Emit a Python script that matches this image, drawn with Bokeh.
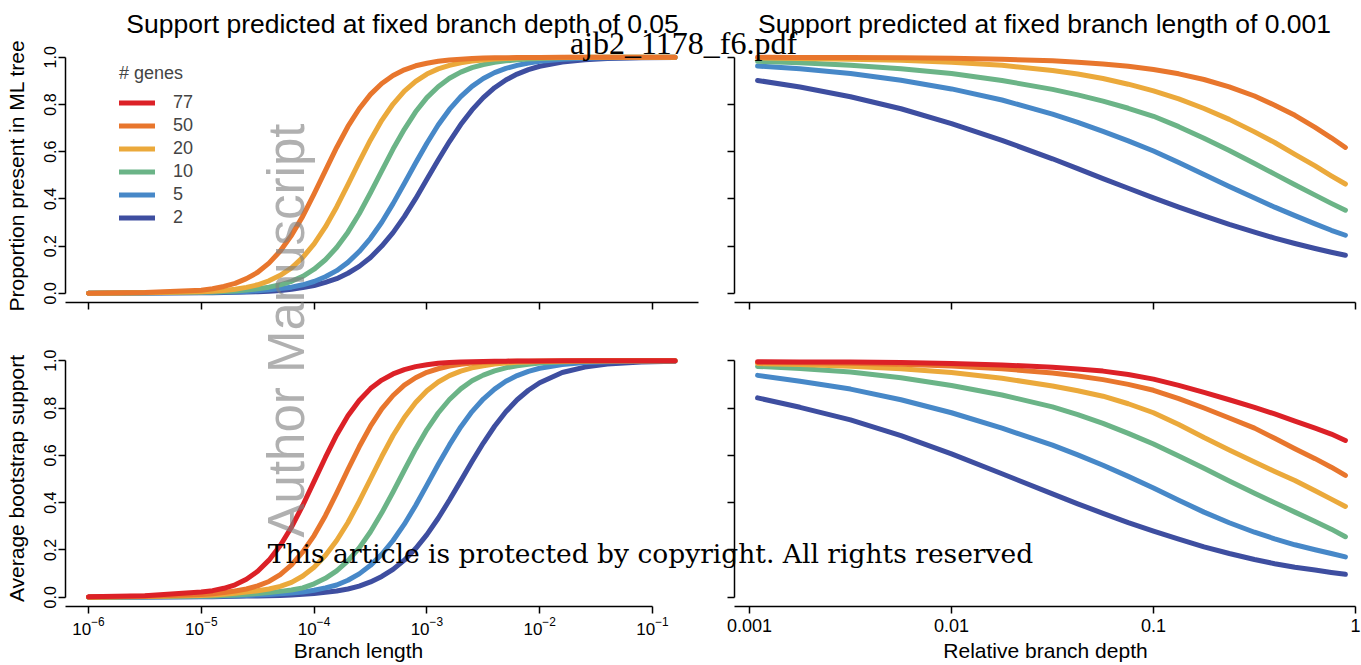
import math
from bokeh.plotting import figure
from bokeh.models import (Range1d, LogScale, LinearScale, LogAxis, LinearAxis,
                          FixedTicker, LogTickFormatter, CustomJSTickFormatter,
                          Label, Legend, LegendItem)
from bokeh.embed import file_html
from bokeh.resources import INLINE
from bokeh.core.properties import value

# ---------------------------------------------------------------- data
GENES = [77, 50, 20, 10, 5, 2]
COLORS = ["#DC2127", "#E8762D", "#EBA93B", "#6BB487", "#4788C8", "#3E4EA0"]

LEFT_XTICKS = [1e-6, 1e-5, 1e-4, 1e-3, 1e-2, 1e-1]
RIGHT_XTICKS = [0.001, 0.01, 0.1, 1.0]
YTICKS = [0.0, 0.2, 0.4, 0.6, 0.8, 1.0]

# branch length (log10) for the left panels
LOG10_BRANCH_LENGTH = [-6.0, -5.5,
                       -5.0, -4.9, -4.8, -4.7, -4.6, -4.5, -4.4, -4.3, -4.2, -4.1,
                       -4.0, -3.9, -3.8, -3.7, -3.6, -3.5, -3.4, -3.3, -3.2, -3.1,
                       -3.0, -2.9, -2.8, -2.7, -2.6, -2.5, -2.4, -2.3, -2.2, -2.1,
                       -2.0, -1.8, -1.6, -1.4, -1.1, -0.8]

# top-left: proportion present in ML tree vs branch length
TL_50 = [0.0, 0.003, 0.013, 0.019, 0.029, 0.042, 0.062, 0.089, 0.128, 0.179, 0.246, 0.327, 0.421, 0.52, 0.618, 0.707, 0.782, 0.843, 0.889, 0.923, 0.947, 0.964, 0.975, 0.983, 0.989, 0.992, 0.995, 0.997, 0.998, 0.998, 0.999, 0.999, 0.999, 1.0, 1.0, 1.0, 1.0, 1.0]
TL_20 = [0.0, 0.002, 0.007, 0.009, 0.012, 0.017, 0.025, 0.036, 0.053, 0.076, 0.108, 0.152, 0.209, 0.281, 0.366, 0.46, 0.557, 0.65, 0.733, 0.802, 0.857, 0.898, 0.929, 0.951, 0.966, 0.977, 0.984, 0.989, 0.993, 0.995, 0.997, 0.998, 0.998, 0.999, 1.0, 1.0, 1.0, 1.0]
TL_10 = [0.0, 0.002, 0.005, 0.006, 0.008, 0.01, 0.014, 0.019, 0.026, 0.036, 0.051, 0.072, 0.102, 0.142, 0.194, 0.259, 0.337, 0.426, 0.519, 0.611, 0.695, 0.769, 0.829, 0.875, 0.911, 0.937, 0.956, 0.969, 0.979, 0.985, 0.99, 0.993, 0.995, 0.998, 0.999, 1.0, 1.0, 1.0]
TL_5 = [0.0, 0.001, 0.003, 0.004, 0.005, 0.006, 0.008, 0.011, 0.015, 0.02, 0.026, 0.036, 0.05, 0.07, 0.096, 0.131, 0.177, 0.233, 0.301, 0.38, 0.465, 0.552, 0.636, 0.713, 0.779, 0.833, 0.877, 0.91, 0.935, 0.953, 0.966, 0.976, 0.983, 0.992, 0.996, 0.998, 0.999, 1.0]
TL_2 = [0.0, 0.001, 0.002, 0.002, 0.003, 0.004, 0.005, 0.007, 0.009, 0.012, 0.017, 0.024, 0.033, 0.046, 0.062, 0.085, 0.114, 0.152, 0.2, 0.257, 0.325, 0.401, 0.483, 0.565, 0.643, 0.715, 0.777, 0.829, 0.871, 0.904, 0.929, 0.948, 0.962, 0.98, 0.99, 0.995, 0.998, 0.999]

# bottom-left: average bootstrap support vs branch length
BL_77 = [0.002, 0.007, 0.022, 0.028, 0.038, 0.053, 0.076, 0.11, 0.157, 0.219, 0.297, 0.389, 0.49, 0.591, 0.686, 0.767, 0.832, 0.882, 0.918, 0.944, 0.962, 0.975, 0.983, 0.989, 0.992, 0.995, 0.996, 0.997, 0.998, 0.998, 0.999, 0.999, 0.999, 1.0, 1.0, 1.0, 1.0, 1.0]
BL_50 = [0.001, 0.004, 0.012, 0.015, 0.02, 0.027, 0.035, 0.048, 0.067, 0.096, 0.137, 0.192, 0.261, 0.345, 0.44, 0.54, 0.636, 0.723, 0.796, 0.853, 0.897, 0.928, 0.951, 0.966, 0.977, 0.985, 0.99, 0.993, 0.995, 0.997, 0.998, 0.998, 0.999, 0.999, 1.0, 1.0, 1.0, 1.0]
BL_20 = [0.0, 0.003, 0.008, 0.01, 0.013, 0.017, 0.022, 0.028, 0.035, 0.046, 0.063, 0.09, 0.127, 0.177, 0.24, 0.316, 0.405, 0.5, 0.595, 0.684, 0.76, 0.823, 0.873, 0.91, 0.937, 0.956, 0.97, 0.979, 0.986, 0.99, 0.993, 0.995, 0.997, 0.998, 0.999, 1.0, 1.0, 1.0]
BL_10 = [0.0, 0.002, 0.005, 0.006, 0.008, 0.01, 0.013, 0.016, 0.02, 0.025, 0.031, 0.04, 0.057, 0.08, 0.112, 0.154, 0.209, 0.277, 0.357, 0.445, 0.537, 0.627, 0.709, 0.779, 0.836, 0.881, 0.915, 0.939, 0.957, 0.97, 0.979, 0.985, 0.99, 0.995, 0.998, 0.999, 1.0, 1.0]
BL_5 = [0.0, 0.001, 0.003, 0.004, 0.005, 0.006, 0.008, 0.01, 0.012, 0.015, 0.018, 0.022, 0.03, 0.04, 0.052, 0.072, 0.099, 0.135, 0.182, 0.24, 0.309, 0.388, 0.474, 0.561, 0.644, 0.72, 0.785, 0.838, 0.88, 0.913, 0.937, 0.955, 0.968, 0.984, 0.992, 0.996, 0.998, 0.999]
BL_2 = [0.0, 0.001, 0.002, 0.002, 0.003, 0.004, 0.005, 0.006, 0.007, 0.008, 0.01, 0.013, 0.016, 0.021, 0.027, 0.035, 0.047, 0.065, 0.088, 0.118, 0.157, 0.206, 0.265, 0.334, 0.411, 0.492, 0.574, 0.652, 0.723, 0.784, 0.835, 0.875, 0.907, 0.95, 0.973, 0.986, 0.995, 0.998]

# relative branch depth (log10) for the right panels
LOG10_REL_DEPTH = [-2.96, -2.75, -2.5, -2.25, -2.0, -1.75, -1.5, -1.375, -1.25, -1.125,
                   -1.0, -0.875, -0.75, -0.625, -0.5, -0.4, -0.3, -0.2, -0.12, -0.05]

# top-right: proportion present in ML tree vs relative depth
TR_50 = [1.0, 0.999, 0.999, 0.998, 0.996, 0.992, 0.985, 0.979, 0.972, 0.962, 0.948, 0.93, 0.906, 0.875, 0.836, 0.797, 0.754, 0.703, 0.659, 0.618]
TR_20 = [0.997, 0.995, 0.992, 0.987, 0.979, 0.966, 0.944, 0.929, 0.91, 0.886, 0.858, 0.824, 0.783, 0.737, 0.684, 0.639, 0.589, 0.54, 0.498, 0.463]
TR_10 = [0.983, 0.977, 0.966, 0.951, 0.931, 0.902, 0.864, 0.841, 0.814, 0.784, 0.75, 0.706, 0.657, 0.605, 0.55, 0.505, 0.46, 0.416, 0.381, 0.352]
TR_5 = [0.963, 0.951, 0.931, 0.903, 0.866, 0.819, 0.759, 0.724, 0.686, 0.646, 0.603, 0.554, 0.503, 0.453, 0.404, 0.365, 0.329, 0.294, 0.267, 0.246]
TR_2 = [0.902, 0.874, 0.833, 0.782, 0.719, 0.648, 0.57, 0.528, 0.486, 0.445, 0.404, 0.365, 0.328, 0.292, 0.259, 0.234, 0.211, 0.19, 0.174, 0.161]

# bottom-right: average bootstrap support vs relative depth
BR_77 = [0.996, 0.995, 0.994, 0.992, 0.988, 0.982, 0.972, 0.965, 0.956, 0.942, 0.922, 0.896, 0.866, 0.835, 0.803, 0.775, 0.745, 0.715, 0.69, 0.663]
BR_50 = [0.992, 0.991, 0.989, 0.985, 0.978, 0.966, 0.948, 0.935, 0.92, 0.90, 0.875, 0.84, 0.80, 0.758, 0.715, 0.672, 0.628, 0.586, 0.55, 0.515]
BR_20 = [0.988, 0.984, 0.977, 0.966, 0.95, 0.926, 0.893, 0.873, 0.85, 0.818, 0.78, 0.73, 0.675, 0.623, 0.572, 0.532, 0.494, 0.45, 0.415, 0.384]
BR_10 = [0.976, 0.967, 0.952, 0.928, 0.895, 0.855, 0.805, 0.772, 0.735, 0.693, 0.648, 0.597, 0.545, 0.492, 0.44, 0.40, 0.36, 0.32, 0.288, 0.256]
BR_5 = [0.938, 0.913, 0.88, 0.835, 0.78, 0.715, 0.643, 0.602, 0.558, 0.511, 0.462, 0.41, 0.36, 0.315, 0.275, 0.247, 0.222, 0.201, 0.185, 0.171]
BR_2 = [0.843, 0.803, 0.75, 0.683, 0.606, 0.522, 0.437, 0.395, 0.355, 0.316, 0.28, 0.246, 0.213, 0.185, 0.16, 0.142, 0.127, 0.115, 0.105, 0.097]

TOP_LEFT = {50: TL_50, 20: TL_20, 10: TL_10, 5: TL_5, 2: TL_2}
BOTTOM_LEFT = {77: BL_77, 50: BL_50, 20: BL_20, 10: BL_10, 5: BL_5, 2: BL_2}
TOP_RIGHT = {50: TR_50, 20: TR_20, 10: TR_10, 5: TR_5, 2: TR_2}
BOTTOM_RIGHT = {77: BR_77, 50: BR_50, 20: BR_20, 10: BR_10, 5: BR_5, 2: BR_2}

# ---------------------------------------------------------------- layout (page pixels)
W, H = 1361, 665
OX, OY = 0, 0
LX0, LPD = 88.0, 112.8        # x px of 1e-6 and px per decade (left panels)
RX0, RPD = 749.0, 202.0       # x px of 0.001 and px per decade (right panels)
TY0, TPU = 292.8, 236.0       # y px of 0 and px per unit (top panels)
BY0, BPU = 596.8, 236.6       # y px of 0 and px per unit (bottom panels)
FONT = "Liberation Sans"

p = figure(width=W, height=H, output_backend="svg", toolbar_location=None, title=None,
           x_range=Range1d(OX, OX + W), y_range=Range1d(OY + H, OY),
           x_axis_type=None, y_axis_type=None, min_border=0)
p.outline_line_color = None
p.background_fill_color = "white"
p.border_fill_color = "white"


def log_range(px0, ppd, e0):
    a = e0 + (OX - px0) / ppd
    b = e0 + (OX + W - px0) / ppd
    return Range1d(start=10 ** a, end=10 ** b)


def lin_range(py0, ppu):
    return Range1d(start=(py0 - (OY + H)) / ppu, end=(py0 - OY) / ppu)


p.extra_x_ranges = {"xl": log_range(LX0, LPD, -6.0), "xr": log_range(RX0, RPD, -3.0)}
p.extra_x_scales = {"xl": LogScale(), "xr": LogScale()}
p.extra_y_ranges = {"yt": lin_range(TY0, TPU), "yb": lin_range(BY0, BPU)}
p.extra_y_scales = {"yt": LinearScale(), "yb": LinearScale()}


# R-style plot regions (4 % padding around the data)
def padded(lo, hi):
    e = 0.04 * (hi - lo)
    return lo - e, hi + e


L_lo, L_hi = padded(min(LOG10_BRANCH_LENGTH), max(LOG10_BRANCH_LENGTH))
R_lo, R_hi = padded(min(LOG10_REL_DEPTH), max(LOG10_REL_DEPTH))
Y_lo, Y_hi = padded(0.0, 1.0)

left_axis_x = LX0 + (L_lo + 6.0) * LPD
right_axis_x = RX0 + (R_lo + 3.0) * RPD
top_axis_y = TY0 - Y_lo * TPU
bot_axis_y = BY0 - Y_lo * BPU

# ---------------------------------------------------------------- curves
color_of = dict(zip(GENES, COLORS))
renderers = {}
panels = [
    (TOP_LEFT, LOG10_BRANCH_LENGTH, "xl", "yt"),
    (BOTTOM_LEFT, LOG10_BRANCH_LENGTH, "xl", "yb"),
    (TOP_RIGHT, LOG10_REL_DEPTH, "xr", "yt"),
    (BOTTOM_RIGHT, LOG10_REL_DEPTH, "xr", "yb"),
]
for series, xs_log, xr_name, yr_name in panels:
    xs = [10 ** e for e in xs_log]
    for g in reversed(GENES):
        if g not in series:
            continue
        r = p.line(x=xs, y=series[g], x_range_name=xr_name, y_range_name=yr_name,
                   line_color=color_of[g], line_width=5, line_cap="round", line_join="round")
        if yr_name == "yb" or g not in renderers:
            renderers[g] = r


# ---------------------------------------------------------------- axes
def style(ax, size):
    ax.axis_line_color = "black"
    ax.axis_line_width = 1.5
    ax.major_tick_line_color = "black"
    ax.major_tick_line_width = 1.5
    ax.major_tick_in = 0
    ax.major_tick_out = 7
    ax.minor_tick_line_color = None
    ax.major_label_text_font = FONT
    ax.major_label_text_font_size = size
    ax.major_label_text_color = "black"


blank = CustomJSTickFormatter(code="return '';")

for loc, hi_bound, fmt in [(top_axis_y, 10 ** L_hi, blank),
                           (bot_axis_y, LEFT_XTICKS[-1], LogTickFormatter())]:
    ax = LogAxis(x_range_name="xl", fixed_location=loc, bounds=(10 ** L_lo, hi_bound),
                 ticker=FixedTicker(ticks=LEFT_XTICKS), formatter=fmt)
    style(ax, "17px")
    ax.major_label_standoff = 3
    p.add_layout(ax, "below")

for loc, fmt in [(top_axis_y, blank),
                 (bot_axis_y, CustomJSTickFormatter(code="return String(tick);"))]:
    ax = LogAxis(x_range_name="xr", fixed_location=loc, bounds=(10 ** R_lo, RIGHT_XTICKS[-1]),
                 ticker=FixedTicker(ticks=RIGHT_XTICKS), formatter=fmt)
    style(ax, "18px")
    ax.major_label_standoff = 5
    p.add_layout(ax, "below")

for yname in ["yt", "yb"]:
    for xloc, fmt in [(left_axis_x, CustomJSTickFormatter(code="return tick.toFixed(1);")),
                      (right_axis_x, blank)]:
        ax = LinearAxis(y_range_name=yname, fixed_location=xloc, bounds=(0.0, 1.0),
                        ticker=FixedTicker(ticks=YTICKS), formatter=fmt,
                        major_label_orientation="vertical")
        style(ax, "16px")
        ax.major_label_standoff = 2
        p.add_layout(ax, "left")


# ---------------------------------------------------------------- texts
def label(x, y, text, size, font=FONT, angle=0.0, align="center", color="black", alpha=1.0):
    p.add_layout(Label(x=x, y=y, text=text, text_font=font, text_font_size=size,
                       text_align=align, text_baseline="middle", angle=angle,
                       text_color=color, text_alpha=alpha))


label(402, 23, "Support predicted at fixed branch depth of 0.05", "26.5px")
label(1044, 23, "Support predicted at fixed branch length of 0.001", "26.5px")
label(358, 650, "Branch length", "21px")
label(1045, 650, "Relative branch depth", "21px")
label(16, 175, "Proportion present in ML tree", "21px", angle=math.pi / 2)
label(16, 478, "Average bootstrap support", "21px", angle=math.pi / 2)

# ---------------------------------------------------------------- legend
items = [LegendItem(label=value(str(g)), renderers=[renderers[g]]) for g in GENES]
legend = Legend(items=items, location=(119 - OX, (OY + H) - 228.5), title="# genes",
                title_text_font=FONT, title_text_font_size="18px", title_text_font_style="normal",
                title_standoff=7, label_text_font=FONT, label_text_font_size="18px",
                glyph_width=36, glyph_height=23, label_height=23, label_width=20,
                label_standoff=18, spacing=0, padding=0, margin=0,
                border_line_color=None, background_fill_alpha=0)
p.add_layout(legend)

# ---------------------------------------------------------------- page stamps
label(286, 330, "Author Manuscript", "51px", angle=math.pi / 2, color="#7f7f7f", alpha=0.62)
label(683, 42, "ajb2_1178_f6.pdf", "32px", font="Liberation Serif")
label(650, 553, "This article is protected by copyright. All rights reserved", "26.5px",
      font="DejaVu Serif")

open("out.html", "w").write(file_html(p, INLINE))
